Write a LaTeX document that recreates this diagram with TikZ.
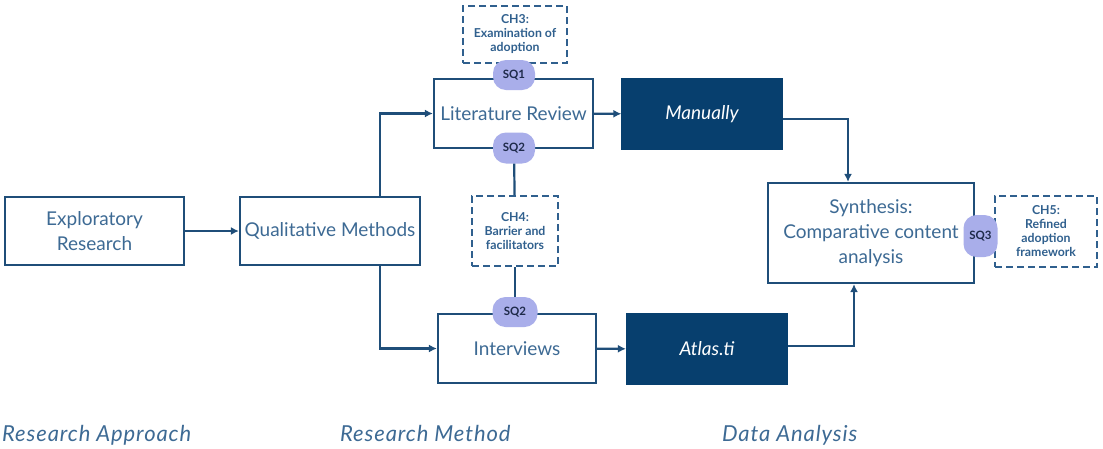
\documentclass[tikz,border=0pt]{standalone}
\usepackage{fontspec}
\setmainfont{Lato}
\usetikzlibrary{arrows.meta}

\definecolor{linec}{HTML}{1F4E79}
\definecolor{navy}{HTML}{073F6E}
\definecolor{txt}{HTML}{3D6A94}
\definecolor{pillfill}{HTML}{A9AEEA}
\definecolor{pilltxt}{HTML}{1E2A4A}
\definecolor{dashc}{HTML}{30608E}

\tikzset{
  box/.style={draw=linec, line width=2.2pt, fill=white, text=txt, align=center,
    inner sep=0pt, font=\fontsize{19}{25}\selectfont},
  darkbox/.style={draw=navy, line width=2.2pt, fill=navy, text=white, align=center,
    inner sep=0pt, font=\fontsize{19}{25}\selectfont\itshape},
  chapbox/.style={draw=dashc, line width=2pt, dash pattern=on 7pt off 4pt, fill=white,
    text=dashc, align=center, inner sep=0pt, font=\fontsize{12.3}{14}\selectfont\bfseries},
  pill/.style={fill=pillfill, rounded corners=13pt, text=pilltxt, inner sep=0pt,
    font=\fontsize{11.5}{13}\selectfont\bfseries},
  arr/.style={draw=linec, line width=2.2pt, line join=miter, -{Latex[length=8pt,width=8pt]}},
  link/.style={draw=linec, line width=2.2pt},
  phase/.style={text=txt, anchor=base west, inner sep=0pt,
    font=\fontsize{22}{26}\selectfont\itshape\addfontfeature{LetterSpace=4}}
}

\begin{document}
\begin{tikzpicture}[x=1pt, y=-1pt]
\useasboundingbox (0,0) rectangle (1103,448);

% main flow boxes
\node[box, minimum width=179pt, minimum height=68pt] (expl) at (94.5,231) {Exploratory\\Research};
\node[box, minimum width=180pt, minimum height=68pt] (qual) at (330,231) {Qualitative Methods};
\node[box, minimum width=159pt, minimum height=69pt] (lit) at (513.5,113.5) {Literature Review};
\node[box, minimum width=158pt, minimum height=69pt] (int) at (517,348.5) {Interviews};
\node[darkbox, minimum width=159pt, minimum height=70pt] (man) at (702,114) {Manually};
\node[darkbox, minimum width=160pt, minimum height=70pt] (atl) at (707,349) {Atlas.ti};
\node[box, minimum width=206pt, minimum height=100pt] (syn) at (871,233) {Synthesis:\\Comparative content\\analysis};

% chapter boxes
\node[chapbox, minimum width=104pt, minimum height=57pt] (ch3) at (515,34.5) {CH3:\\Examination of\\adoption};
\node[chapbox, minimum width=86pt, minimum height=70pt] (ch4) at (515,231) {CH4:\\Barrier and\\facilitators};
\node[chapbox, minimum width=102pt, minimum height=71pt] (ch5) at (1046,231.5) {CH5:\\Refined\\adoption\\framework};

% sub-question tags
\node[pill, minimum width=42pt, minimum height=30pt] (sq1) at (514,75) {SQ1};
\node[pill, minimum width=42pt, minimum height=31pt] (sq2a) at (514,148) {SQ2};
\node[pill, minimum width=45pt, minimum height=30pt] (sq2b) at (515,312) {SQ2};
\node[pill, minimum width=34pt, minimum height=42pt] (sq3) at (980.5,236) {SQ3};

% connectors
\draw[arr] (expl) -- (qual);
\draw[arr] ([xshift=50pt]qual.north) |- (lit.west);
\draw[arr] ([xshift=50pt]qual.south) |- (int.west);
\draw[arr] (lit) -- (man);
\draw[arr] (int) -- (atl);
\draw[arr] ([yshift=-5pt]man.east) -| ([xshift=-23pt]syn.north);
\draw[arr] ([yshift=3pt]atl.east) -| ([xshift=-17pt]syn.south);
\draw[link] (sq2a) -- (ch4);
\draw[link] (ch4) -- (sq2b);

% phase labels
\node[phase] (ph1) at (2,441) {Research Approach};
\node[phase] (ph2) at (340,441) {Research Method};
\node[phase] (ph3) at (722,441) {Data Analysis};
\end{tikzpicture}
\end{document}
